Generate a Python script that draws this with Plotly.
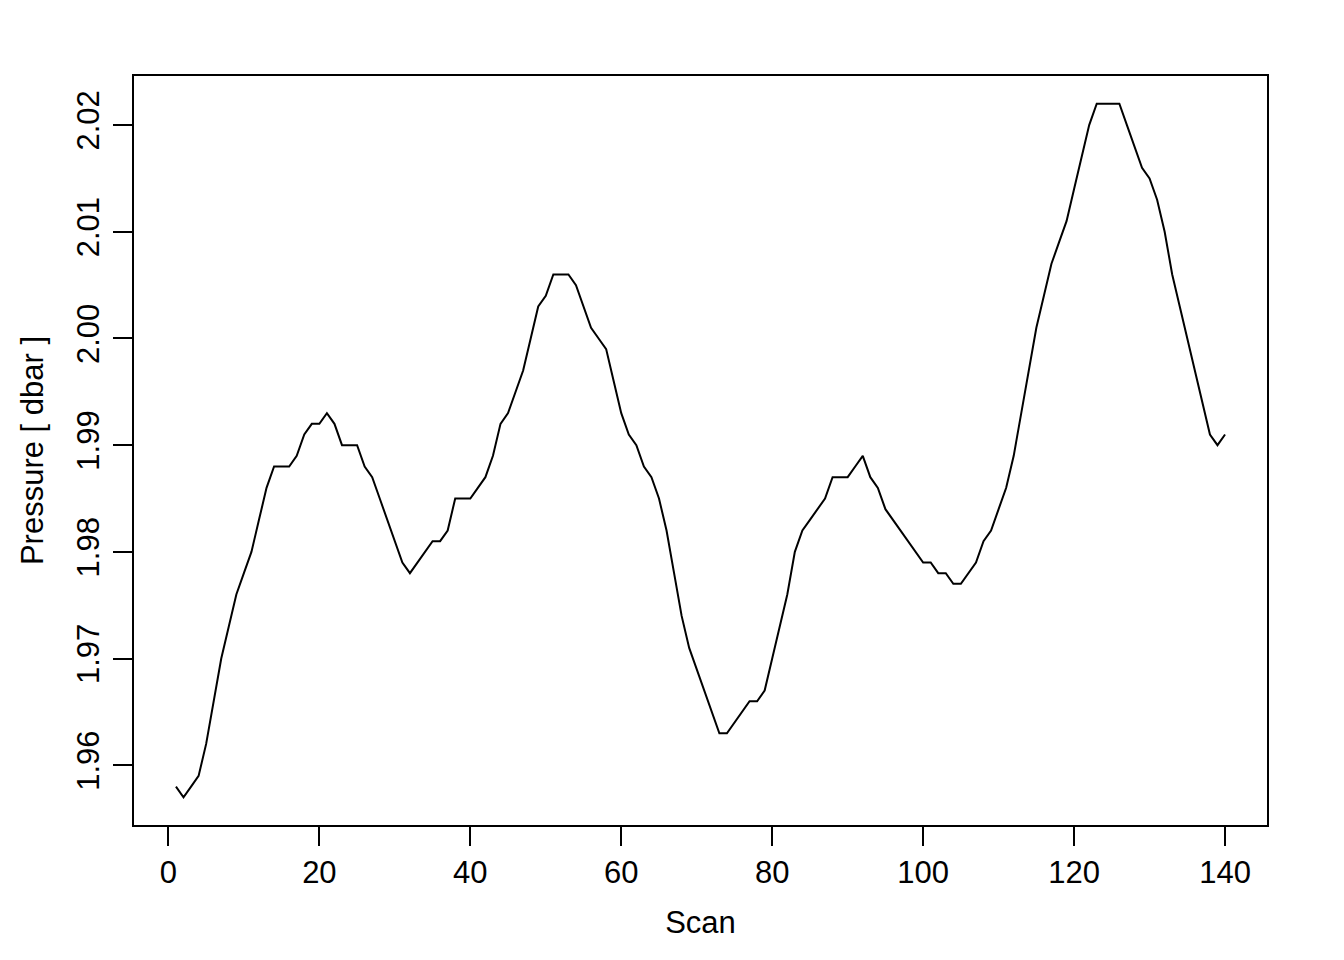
import plotly.graph_objects as go

scan = list(range(1, 141))
pressure = [
    1.958, 1.957, 1.958, 1.959, 1.962, 1.966, 1.970, 1.973, 1.976, 1.978,
    1.980, 1.983, 1.986, 1.988, 1.988, 1.988, 1.989, 1.991, 1.992, 1.992,
    1.993, 1.992, 1.990, 1.990, 1.990, 1.988, 1.987, 1.985, 1.983, 1.981,
    1.979, 1.978, 1.979, 1.980, 1.981, 1.981, 1.982, 1.985, 1.985, 1.985,
    1.986, 1.987, 1.989, 1.992, 1.993, 1.995, 1.997, 2.000, 2.003, 2.004,
    2.006, 2.006, 2.006, 2.005, 2.003, 2.001, 2.000, 1.999, 1.996, 1.993,
    1.991, 1.990, 1.988, 1.987, 1.985, 1.982, 1.978, 1.974, 1.971, 1.969,
    1.967, 1.965, 1.963, 1.963, 1.964, 1.965, 1.966, 1.966, 1.967, 1.970,
    1.973, 1.976, 1.980, 1.982, 1.983, 1.984, 1.985, 1.987, 1.987, 1.987,
    1.988, 1.989, 1.987, 1.986, 1.984, 1.983, 1.982, 1.981, 1.980, 1.979,
    1.979, 1.978, 1.978, 1.977, 1.977, 1.978, 1.979, 1.981, 1.982, 1.984,
    1.986, 1.989, 1.993, 1.997, 2.001, 2.004, 2.007, 2.009, 2.011, 2.014,
    2.017, 2.020, 2.022, 2.022, 2.022, 2.022, 2.020, 2.018, 2.016, 2.015,
    2.013, 2.010, 2.006, 2.003, 2.000, 1.997, 1.994, 1.991, 1.990, 1.991,
]

x_ticks = [0, 20, 40, 60, 80, 100, 120, 140]
y_ticks = [1.96, 1.97, 1.98, 1.99, 2.00, 2.01, 2.02]
y_tick_text = ["1.96", "1.97", "1.98", "1.99", "2.00", "2.01", "2.02"]

FONT = "Liberation Sans, Arial, Helvetica, sans-serif"
FS = 31

fig = go.Figure()
fig.add_trace(go.Scatter(
    x=scan, y=pressure, mode="lines",
    line=dict(color="black", width=2),
    showlegend=False, hoverinfo="skip",
))

axis_common = dict(
    showgrid=False, zeroline=False,
    showline=True, mirror=True, linecolor="black", linewidth=1.8,
    ticks="outside", ticklen=19, tickwidth=1.8, tickcolor="black",
    tickfont=dict(family=FONT, size=FS, color="black"),
)

xr_pad = (140 - 1) * 0.04
yr_pad = (max(pressure) - min(pressure)) * 0.04

fig.update_xaxes(
    range=[1 - xr_pad, 140 + xr_pad],
    tickvals=x_ticks,
    title=dict(text="Scan", font=dict(family=FONT, size=FS, color="black"), standoff=22),
    **axis_common,
)
fig.update_yaxes(
    range=[min(pressure) - yr_pad, max(pressure) + yr_pad],
    tickvals=y_ticks, ticktext=y_tick_text, tickangle=-90,
    ticklabelstandoff=2,
    title=dict(text="Pressure [ dbar ]", font=dict(family=FONT, size=FS, color="black"), standoff=18),
    **axis_common,
)

fig.update_layout(
    width=1336, height=952,
    margin=dict(l=126, r=77, t=68, b=135, autoexpand=False),
    plot_bgcolor="white", paper_bgcolor="white",
)

fig.write_html("out.html")
